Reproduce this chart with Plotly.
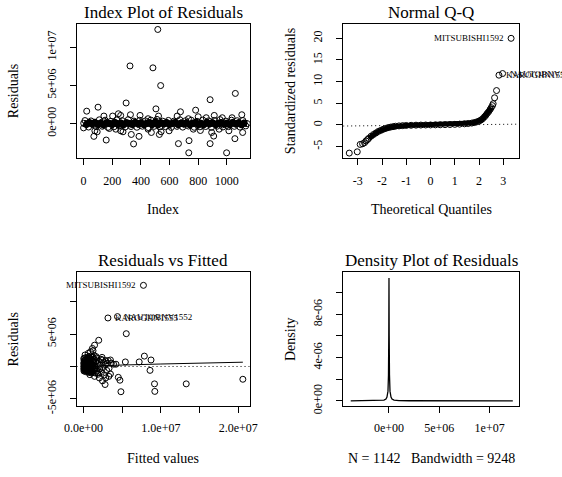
import plotly.graph_objects as go

FONT = "Liberation Serif"
W, H = 562, 477

# ---------------- Panel 1: Index plot of residuals ----------------
idx_band = [1, 20, 41, 60, 79, 101, 120, 139, 161, 180, 200, 219, 241, 260, 279, 300, 321, 340, 359, 381,
            400, 420, 441, 459, 480, 501, 519, 540, 561, 580, 600, 621, 639, 660, 681, 700, 719, 741, 760, 780,
            801, 820, 839, 861, 880, 900, 921, 940, 959, 980, 1001, 1020, 1040, 1061, 1080, 1101, 1120, 1142]
res_band = [0.05e6, -0.10e6, 0.12e6, -0.05e6, 0.15e6, -0.12e6, 0.08e6, -0.15e6, 0.10e6, 0.02e6,
            -0.08e6, 0.14e6, -0.10e6, 0.06e6, -0.14e6, 0.12e6, 0.00e6, -0.10e6, 0.15e6, -0.06e6,
            0.10e6, -0.12e6, 0.05e6, 0.13e6, -0.09e6, 0.20e6, -0.15e6, 0.10e6, -0.05e6, 0.12e6,
            -0.10e6, 0.04e6, 0.14e6, -0.12e6, 0.08e6, -0.06e6, 0.10e6, -0.14e6, 0.06e6, 0.12e6,
            -0.10e6, 0.03e6, -0.12e6, 0.14e6, -0.05e6, 0.10e6, -0.13e6, 0.07e6, 0.12e6, -0.08e6,
            0.05e6, -0.11e6, 0.13e6, -0.04e6, 0.09e6, -0.12e6, 0.06e6, 0.00e6]
idx_edge = [10, 35, 52, 88, 110, 131, 150, 170, 190, 212, 232, 250, 270, 290, 312, 331, 352, 372, 392, 410,
            432, 452, 470, 492, 512, 532, 552, 572, 592, 612, 632, 652, 672, 692, 712, 732, 752, 772, 792, 812,
            832, 852, 872, 892, 912, 932, 952, 972, 992, 1012, 1032, 1052, 1072, 1092, 1112, 1132]
res_edge = [0.40e6, -0.45e6, 0.35e6, -0.40e6, 0.50e6, -0.35e6, 0.45e6, -0.50e6, 0.30e6, -0.42e6,
            0.48e6, -0.30e6, 0.38e6, -0.46e6, 0.52e6, -0.38e6, 0.33e6, -0.48e6, 0.44e6, -0.34e6,
            0.36e6, -0.52e6, 0.46e6, -0.36e6, 0.55e6, -0.44e6, 0.32e6, -0.40e6, 0.42e6, -0.50e6,
            0.34e6, -0.36e6, 0.50e6, -0.46e6, 0.38e6, -0.32e6, 0.44e6, -0.48e6, 0.30e6, -0.42e6,
            0.47e6, -0.38e6, 0.36e6, -0.50e6, 0.42e6, -0.34e6, 0.52e6, -0.44e6, 0.33e6, -0.40e6,
            0.45e6, -0.36e6, 0.38e6, -0.46e6, 0.40e6, -0.30e6]
idx_pts = [22, 101, 142, 203, 243, 259, 297, 324, 327, 394, 450, 484, 505, 518, 523, 538, 653, 676, 732,
           782, 800, 856, 883, 912, 968, 1036, 1059, 1104,
           0, 72, 79, 95, 158, 180, 225, 259, 275, 333, 349, 387, 450, 473, 529, 541, 597, 662, 734, 736,
           766, 815, 883, 894, 908, 946, 998, 1014, 1056, 1110]
res_pts = [1.63e6, 2.15e6, 0.99e6, 0.99e6, 1.29e6, 1.07e6, 2.70e6, 7.55e6, 1.16e6, 1.07e6, 0.64e6,
           7.30e6, 1.93e6, 12.32e6, 0.99e6, 4.98e6, 0.99e6, 1.55e6, 0.64e6, 1.76e6, 0.90e6, 0.77e6,
           3.13e6, 1.07e6, 0.77e6, 0.77e6, 3.95e6, 1.16e6,
           -0.56e6, -1.67e6, -0.94e6, -1.07e6, -2.15e6, -0.64e6, -0.73e6, -0.94e6, -1.07e6, -1.42e6,
           -2.66e6, -1.67e6, -0.73e6, -1.16e6, -1.42e6, -1.07e6, -0.94e6, -2.62e6, -3.82e6, -2.23e6,
           -0.73e6, -0.90e6, -2.62e6, -1.16e6, -1.63e6, -0.73e6, -3.82e6, -0.94e6, -1.97e6, -1.16e6]

# ---------------- Panel 2: Normal Q-Q ----------------
qq_theo_dense = [-2.55, -2.45, -2.35, -2.25, -2.15, -2.05, -1.95, -1.85, -1.75, -1.65, -1.55, -1.45,
                 -1.30, -1.15, -1.00, -0.80, -0.60, -0.40, -0.20, 0.00, 0.20, 0.40, 0.60, 0.80, 1.00,
                 1.20, 1.40, 1.55, 1.70, 1.80, 1.90, 2.00, 2.08, 2.15, 2.22, 2.28, 2.34, 2.40, 2.46, 2.50]
qq_std_dense = [-3.1, -2.6, -2.2, -1.85, -1.5, -1.25, -1.0, -0.8, -0.62, -0.5, -0.4, -0.3,
                -0.22, -0.16, -0.12, -0.08, -0.05, -0.03, -0.01, 0.0, 0.02, 0.04, 0.07, 0.1, 0.14,
                0.19, 0.26, 0.33, 0.43, 0.55, 0.7, 0.9, 1.15, 1.45, 1.85, 2.25, 2.7, 3.1, 3.6, 4.0]
qq_theo_tail = [-3.35, -3.02, -2.90, -2.80, -2.72, -2.66, -2.60, 2.55, 2.58, 2.64, 2.72, 2.82, 2.97, 3.32]
qq_std_tail = [-6.5, -6.2, -4.5, -4.35, -4.1, -3.7, -3.4, 4.46, 4.9, 6.27, 7.94, 11.49, 11.87, 20.0]
qqline_x = [-3.6, 3.66]
qqline_y = [-0.25, 0.18]

# ---------------- Panel 3: Residuals vs Fitted ----------------
fit_pts = [7.75e6, 3.16e6, 4.39e6, 5.53e6, 1.97e6, 1.43e6, 1.15e6, 7.87e6, 8.73e6, 7.20e6, 5.41e6,
           8.60e6, 4.20e6, 4.50e6, 4.71e6, 9.18e6, 9.22e6, 4.84e6, 13.28e6, 20.6e6, 2.79e6, 2.46e6,
           3.48e6, 3.48e6,
           0.20e6, 0.61e6, 0.90e6, 1.23e6, 1.64e6, 2.25e6, 2.46e6, 2.87e6, 3.07e6, 3.60e6, 3.89e6,
           3.28e6, 2.87e6, 2.05e6, 1.84e6, 1.43e6, 0.82e6, 1.02e6]
res_fit_pts = [12.5e6, 7.47e6, 7.68e6, 5.05e6, 4.04e6, 3.28e6, 2.78e6, 1.60e6, 1.00e6, 0.70e6, 0.70e6,
               -0.60e6, 0.35e6, -1.67e6, -2.12e6, -2.68e6, -3.84e6, -3.89e6, -2.68e6, -1.97e6, -2.78e6,
               -2.22e6, -1.16e6, 1.00e6,
               1.77e6, 2.02e6, 2.27e6, 2.42e6, 1.52e6, 1.11e6, 1.01e6, 0.91e6, 0.51e6, 0.51e6, 0.35e6,
               -1.52e6, -1.77e6, -1.77e6, -1.01e6, -1.52e6, -1.26e6, -0.76e6]
# dense cluster near the origin (units of 1e6)
fit_core = [0.05, 0.10, 0.15, 0.20, 0.25, 0.30, 0.35, 0.40, 0.45, 0.50, 0.55, 0.60, 0.65, 0.70, 0.75,
            0.80, 0.85, 0.90, 0.95, 1.00, 1.05, 1.10, 1.15, 1.20, 1.30, 1.35, 1.40, 1.50, 1.55, 1.60,
            1.70, 1.75, 1.80, 1.90, 2.00, 2.10, 2.20, 2.30, 2.40, 2.50, 2.60, 2.70, 2.80, 3.00, 3.20,
            3.30, 0.02, 0.08, 0.12, 0.18, 0.22, 0.28, 0.32, 0.38, 0.42, 0.48, 0.52, 0.58, 0.62, 0.68,
            0.72, 0.78, 0.88, 0.98, 1.08, 1.25, 1.45, 1.65,
            0.03, 0.06, 0.09, 0.11, 0.14, 0.17, 0.19, 0.21, 0.24, 0.27, 0.29, 0.31, 0.34, 0.37, 0.39,
            0.41, 0.44, 0.47, 0.49, 0.51, 0.54, 0.57, 0.59, 0.61, 0.64, 0.67, 0.69, 0.71, 0.74, 0.77,
            0.79, 0.81, 0.84, 0.87, 0.89, 0.91, 0.94, 0.97, 0.99, 1.02, 1.06, 1.12, 1.18, 1.22, 1.28,
            1.33, 1.38, 1.42, 0.04, 0.13, 0.26, 0.36, 0.46, 0.56, 0.66, 0.76, 0.86, 0.96, 1.04, 1.16]
res_core = [0.1, -0.2, 0.3, -0.4, 0.5, 0.0, -0.6, 0.8, 0.2, -0.3, 1.0, -0.7, 0.4, -0.1, 1.2,
            -0.5, 0.6, -0.9, 0.1, 0.9, -0.3, 1.4, -0.8, 0.3, -0.5, 1.1, 0.0, -1.0, 0.7, -0.2,
            1.3, -0.7, 0.4, -1.2, 0.8, -0.4, 0.2, -0.9, 1.4, -0.2, 0.6, -1.3, 0.3, -0.6, 0.9,
            -0.3, 0.5, -0.5, 0.7, -0.1, 0.2, -0.3, 0.6, -0.2, 0.4, -0.5, 0.1, 0.6, -0.4, 0.9,
            -0.6, 0.2, -0.2, 0.5, -0.6, 0.8, -0.4, 0.9,
            1.2, -0.7, 0.9, -0.3, 1.3, 0.4, -0.6, 1.0, -0.2, 0.7, -0.8, 1.1, 0.3, -0.4, 1.4,
            -0.1, 0.8, -0.7, 0.5, 1.2, -0.4, 0.2, -0.9, 1.0, 0.5, -0.2, 1.5, -0.6, 0.3, 0.9,
            -0.8, 1.3, 0.0, -0.5, 0.6, 1.6, -0.3, 0.2, -1.0, 1.1, 0.4, -0.7, 1.5, 0.0, -0.9,
            0.6, 1.7, -0.4, -0.3, 0.0, 0.1, 0.2, -0.1, 0.3, 0.0, -0.2, 0.1, -0.4, 0.2, 0.0]
smooth_x = [0.0, 2.0e6, 5.0e6, 1.0e7, 1.5e7, 2.06e7]
smooth_y = [0.0, 0.05e6, 0.22e6, 0.38e6, 0.52e6, 0.66e6]
zero_x = [-0.9e6, 21.5e6]
zero_y = [0, 0]

# ---------------- Panel 4: Density ----------------
dens_x = [-3.8e6, -2.0e6, -1.0e6, -0.5e6, -0.3e6, -0.2e6, -0.1e6, -0.05e6, -0.02e6, 0.0,
          0.02e6, 0.05e6, 0.1e6, 0.2e6, 0.3e6, 0.5e6, 1.0e6, 2.0e6, 5.0e6, 8.0e6, 12.3e6]
dens_y = [0.0, 0.01e-6, 0.02e-6, 0.07e-6, 0.17e-6, 0.35e-6, 0.9e-6, 2.4e-6, 6.0e-6, 11.36e-6,
          6.0e-6, 2.4e-6, 0.9e-6, 0.35e-6, 0.17e-6, 0.07e-6, 0.02e-6, 0.01e-6, 0.005e-6, 0.003e-6, 0.0]

assert len(idx_band) == len(res_band)
assert len(idx_edge) == len(res_edge)
assert len(idx_pts) == len(res_pts)
assert len(qq_theo_dense) == len(qq_std_dense)
assert len(qq_theo_tail) == len(qq_std_tail)
assert len(fit_pts) == len(res_fit_pts)
assert len(fit_core) == len(res_core)

fit_core_v = [v * 1e6 for v in fit_core]
res_core_v = [v * 1e6 for v in res_core]

# ---------------- layout geometry (pixels) ----------------
COLS = [(66, 246), (343, 526)]
ROWS = [(24, 161), (277, 413)]


def xd(c):
    return [COLS[c][0] / W, COLS[c][1] / W]


def yd(r):
    return [1 - ROWS[r][1] / H, 1 - ROWS[r][0] / H]


MK = dict(symbol="circle-open", size=6, color="black", line=dict(width=1, color="black"))

fig = go.Figure()
# panel 1
fig.add_trace(go.Scatter(x=idx_band, y=res_band, mode="lines+markers", line=dict(color="black", width=7),
                         marker=MK, xaxis="x", yaxis="y"))
fig.add_trace(go.Scatter(x=idx_edge, y=res_edge, mode="markers", marker=MK, xaxis="x", yaxis="y"))
fig.add_trace(go.Scatter(x=idx_pts, y=res_pts, mode="markers", marker=MK, xaxis="x", yaxis="y"))
# panel 2
fig.add_trace(go.Scatter(x=qqline_x, y=qqline_y, mode="lines", line=dict(color="black", width=1, dash="1px,3px"),
                         xaxis="x2", yaxis="y2"))
fig.add_trace(go.Scatter(x=qq_theo_dense, y=qq_std_dense, mode="lines+markers",
                         line=dict(color="black", width=5), marker=MK, xaxis="x2", yaxis="y2"))
fig.add_trace(go.Scatter(x=qq_theo_tail, y=qq_std_tail, mode="markers", marker=MK, xaxis="x2", yaxis="y2"))
# panel 3
fig.add_trace(go.Scatter(x=zero_x, y=zero_y, mode="lines", line=dict(color="black", width=1, dash="1px,3px"),
                         xaxis="x3", yaxis="y3"))
fig.add_trace(go.Scatter(x=fit_core_v, y=res_core_v, mode="markers", marker=MK, xaxis="x3", yaxis="y3"))
fig.add_trace(go.Scatter(x=fit_pts, y=res_fit_pts, mode="markers", marker=MK, xaxis="x3", yaxis="y3"))
fig.add_trace(go.Scatter(x=smooth_x, y=smooth_y, mode="lines", line=dict(color="black", width=1),
                         xaxis="x3", yaxis="y3"))
# panel 4
fig.add_trace(go.Scatter(x=dens_x, y=dens_y, mode="lines", line=dict(color="black", width=1.3),
                         xaxis="x4", yaxis="y4"))

TF = dict(family=FONT, size=12, color="black")


def ax(domain, rng, tickvals, ticktext, anchor, is_y=False, title=None, standoff=17):
    d = dict(domain=domain, range=rng, tickvals=tickvals, ticktext=ticktext, anchor=anchor,
             showline=True, mirror=True, linecolor="black", linewidth=1, ticks="outside",
             ticklen=6, tickcolor="black", tickwidth=1, showgrid=False, zeroline=False,
             tickfont=TF, fixedrange=True)
    if is_y:
        d["tickangle"] = -90
        d["ticklabelstandoff"] = 9
        d["title"] = dict(text=title, font=dict(family=FONT, size=14, color="black"), standoff=standoff)
    else:
        d["ticklabelstandoff"] = 5
    return d


fig.update_layout(
    width=W, height=H, margin=dict(l=0, r=0, t=0, b=0), showlegend=False,
    paper_bgcolor="white", plot_bgcolor="white", font=dict(family=FONT, color="black"),
    xaxis=ax(xd(0), [-49, 1160], [0, 200, 400, 600, 800, 1000],
             ["0", "200", "400", "600", "800", "1000"], "y"),
    yaxis=ax(yd(0), [-4.54e6, 13.09e6], [0, 5e6, 1e7], ["0e+00", "5e+06", "1e+07"], "x", True,
             "Residuals", 22),
    xaxis2=ax(xd(1), [-3.6, 3.66], [-3, -2, -1, 0, 1, 2, 3], ["-3", "-2", "-1", "0", "1", "2", "3"], "y2"),
    yaxis2=ax(yd(0), [-7.7, 23.4], [-5, 0, 5, 10, 15, 20], ["-5", "0", "5", "10", "15", "20"], "x2", True,
              "Standardized residuals", 12),
    xaxis3=ax(xd(0), [-0.9e6, 21.5e6], [0, 5e6, 1e7, 1.5e7, 2e7],
              ["0.0e+00", "", "1.0e+07", "", "2.0e+07"], "y3"),
    yaxis3=ax(yd(1), [-6.1e6, 14.5e6], [-5e6, 0, 5e6, 1e7], ["-5e+06", "", "5e+06", ""], "x3", True,
              "Residuals", 22),
    xaxis4=ax(xd(1), [-4.55e6, 12.95e6], [0, 5e6, 1e7], ["0e+00", "5e+06", "1e+07"], "y4"),
    yaxis4=ax(yd(1), [-0.48e-6, 11.88e-6], [0, 2e-6, 4e-6, 6e-6, 8e-6, 1e-5],
              ["0e+00", "", "4e-06", "", "8e-06", ""], "x4", True, "Density", 12),
)

ann = []


def txt(x, y, s, size, angle=0):
    ann.append(dict(x=x / W, y=1 - y / H, xref="paper", yref="paper", text=s, showarrow=False,
                    textangle=angle, xanchor="center", yanchor="middle",
                    font=dict(family=FONT, size=size, color="black")))


cx = [(COLS[0][0] + COLS[0][1]) / 2, (COLS[1][0] + COLS[1][1]) / 2]
txt(cx[0], 13, "Index Plot of Residuals", 17)
txt(cx[1], 13, "Normal Q-Q", 17)
txt(cx[0], 265, "Residuals vs Fitted", 17)
txt(cx[1], 265, "Density Plot of Residuals", 17)
txt(cx[0], 213, "Index", 14)
txt(cx[1], 213, "Theoretical Quantiles", 14)
txt(cx[0], 466, "Fitted values", 14)
txt(cx[1], 466, "N = 1142   Bandwidth = 9248", 14)

LF = dict(family=FONT, size=9, color="black")
point_labels = [
    ("x2", "y2", 3.32, 20.0, "MITSUBISHI1592", "right"),
    ("x2", "y2", 2.82, 11.49, "KAROGHN1555", "left"),
    ("x2", "y2", 2.97, 11.87, "NAUTOBNV1552", "left"),
    ("x3", "y3", 7.75e6, 12.5e6, "MITSUBISHI1592", "right"),
    ("x3", "y3", 3.16e6, 7.47e6, "KAROGHN1555", "left"),
    ("x3", "y3", 4.39e6, 7.68e6, "NAUTOBNV1552", "left"),
]
for xr, yr, x, y, s, side in point_labels:
    ann.append(dict(x=x, y=y, xref=xr, yref=yr, text=s, showarrow=False, xanchor=side, yanchor="middle",
                    xshift=-5 if side == "right" else 5, font=LF))

fig.update_layout(annotations=ann)
fig.write_html("out.html")
